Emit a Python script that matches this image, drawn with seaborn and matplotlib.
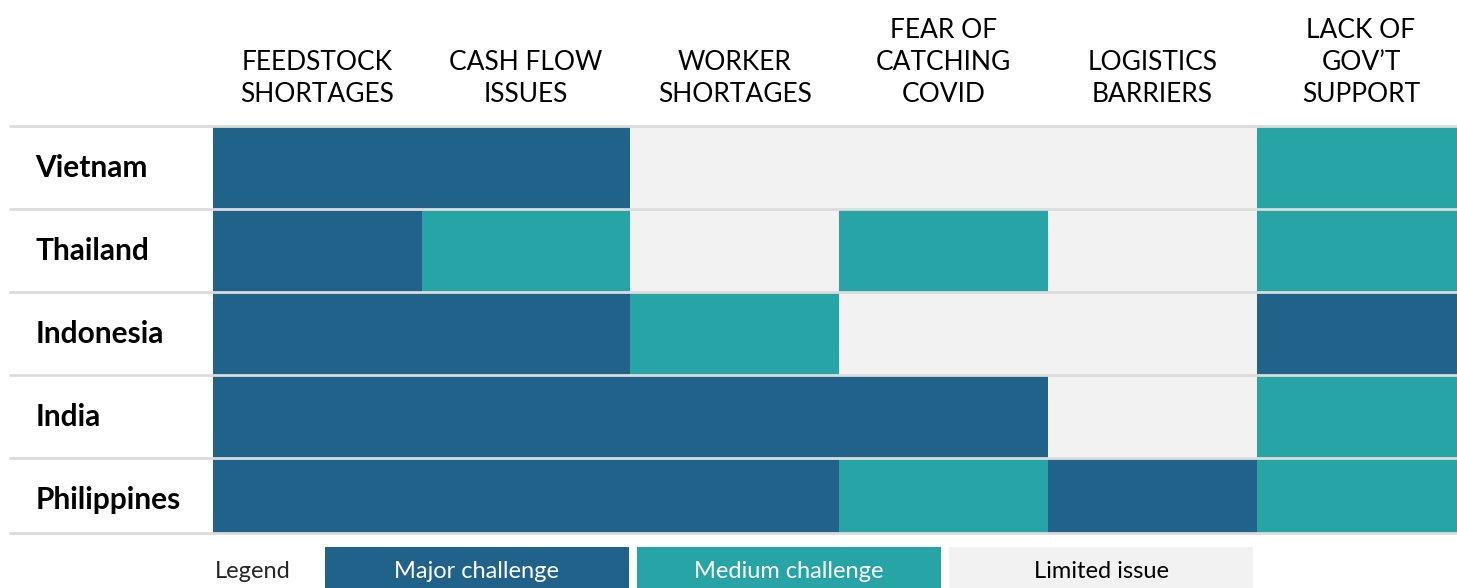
import numpy as np
import pandas as pd
import matplotlib
matplotlib.use("Agg")
import matplotlib.pyplot as plt
from matplotlib.colors import ListedColormap
from matplotlib.patches import Rectangle
import seaborn as sns

sns.set_theme(style="white")
plt.rcParams['font.family'] = ['Lato', 'DejaVu Sans']

# data
countries = ['Vietnam', 'Thailand', 'Indonesia', 'India', 'Philippines']
challenges = ['FEEDSTOCK\nSHORTAGES', 'CASH FLOW\nISSUES', 'WORKER\nSHORTAGES',
              'FEAR OF\nCATCHING\nCOVID', 'LOGISTICS\nBARRIERS', 'LACK OF\nGOV\u2019T\nSUPPORT']
levels = ['Major challenge', 'Medium challenge', 'Limited issue']
# 0 = major, 1 = medium, 2 = limited
vietnam = [0, 0, 2, 2, 2, 1]
thailand = [0, 1, 2, 1, 2, 1]
indonesia = [0, 0, 1, 2, 2, 0]
india = [0, 0, 0, 0, 2, 1]
philippines = [0, 0, 0, 1, 0, 1]

level_colors = ['#20628a', '#27a4a6', '#f2f2f2']
level_text = ['white', 'white', 'black']

df = pd.DataFrame([vietnam, thailand, indonesia, india, philippines],
                  index=countries, columns=challenges)

W, H = 1457, 588
fig = plt.figure(figsize=(W / 100, H / 100), dpi=100)
ax = fig.add_axes([213 / W, 1 - 533 / H, (W - 213) / W, (533 - 126) / H])

sns.heatmap(df, ax=ax, cmap=ListedColormap(level_colors), vmin=-0.5, vmax=2.5,
            cbar=False, linewidths=0)
# last row and column are partly cut off in the original layout
ax.set_ylim(4.9, 0)
ax.set_xlim(0, 5.96)

# header labels
ax.xaxis.tick_top()
ax.set_xticklabels(challenges, rotation=0, fontsize=19, color='black',
                   linespacing=1.33, va='bottom')
ax.tick_params(axis='x', length=0, pad=14)

# row labels
ax.set_yticklabels(countries, rotation=0, fontsize=21.5, fontweight='bold',
                   color='black', ha='left', va='center')
ax.tick_params(axis='y', length=0, pad=128)
ax.set_xlabel('')
ax.set_ylabel('')

# row separators running across the label column
for y in range(0, len(countries) + 1):
    yy = min(y, 4.9)
    ax.axhline(yy, xmin=(10 - 213) / (W - 213), xmax=1, color='#dcdcdc',
               linewidth=2, clip_on=False, zorder=5)
for s in ax.spines.values():
    s.set_visible(False)

# legend
fig.text(253 / W, 1 - 571 / H, 'Legend', fontsize=17, ha='center', va='center')
box_w, gap, x0 = 304, 8, 325
for i, (lab, col, tc) in enumerate(zip(levels, level_colors, level_text)):
    bx = x0 + i * (box_w + gap)
    fig.add_artist(Rectangle((bx / W, 0), box_w / W, (588 - 547) / H,
                             transform=fig.transFigure, facecolor=col,
                             edgecolor='none'))
    fig.text((bx + box_w / 2) / W, 1 - 571 / H, lab, fontsize=17, color=tc,
             ha='center', va='center')

fig.savefig('out.png', dpi=100)
